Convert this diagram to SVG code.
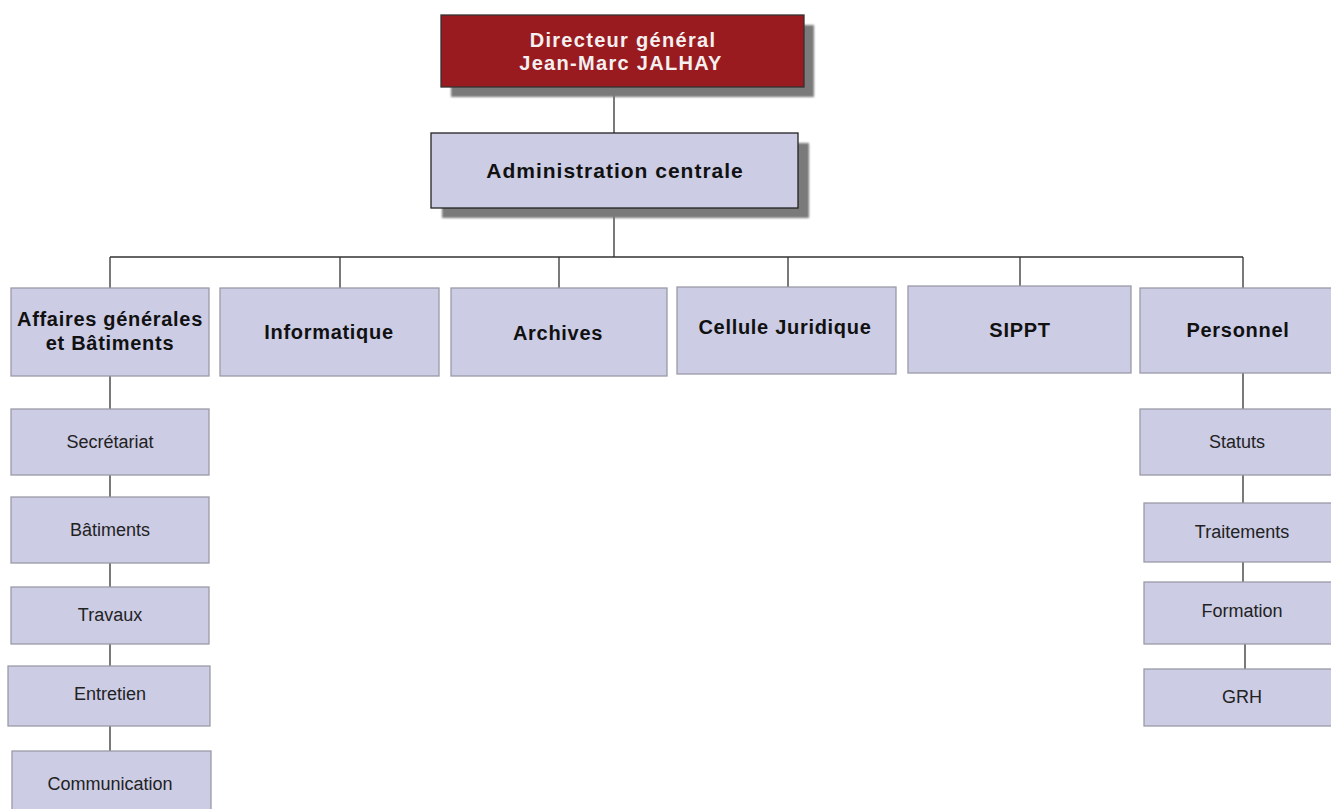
<svg xmlns="http://www.w3.org/2000/svg" width="1331" height="809" viewBox="0 0 1331 809">
<defs>
<filter id="sh" x="-10%" y="-20%" width="130%" height="160%"><feGaussianBlur stdDeviation="1.2"/></filter>
</defs>
<style>
.box{fill:#ccccE5;stroke:#9a9aa8;stroke-width:1.3}
.top{fill:#ccccE5;stroke:#222;stroke-width:1.3}
.dir{fill:#991b1f;stroke:#333;stroke-width:1.3}
.shadow{fill:#7a7a7a;filter:url(#sh)}
.conn{stroke:#333;stroke-width:1.3;fill:none}
.b{font-family:"Liberation Sans",Arial,sans-serif;font-weight:bold;font-size:20px;letter-spacing:0.7px;fill:#111;text-anchor:middle}
.s{font-family:"Liberation Sans",Arial,sans-serif;font-size:18px;fill:#222;text-anchor:middle}
.w{font-family:"Liberation Sans",Arial,sans-serif;font-weight:bold;font-size:20px;letter-spacing:1.3px;fill:#f4f0f0;text-anchor:middle}
</style>
<rect width="1331" height="809" fill="#fff"/>
<g id="connectors">
<path class="conn" d="M614 87V133M614 208V257M110 257H1243M110 257V288M340 257V288M559 257V288M788 257V287M1020 257V286M1243 257V288"/>
<path class="conn" d="M110 376V409M110 475V497M110 563V587M110 644V666M110 726V751"/>
<path class="conn" d="M1243 373V409M1243 475V503M1243 562V582M1245 644V669"/>
</g>
<g id="directeur">
<rect class="shadow" x="451" y="25" width="363" height="72"/>
<rect class="dir" x="441" y="15" width="363" height="72"/>
<text class="w" x="623" y="47">Directeur général</text>
<text class="w" x="621" y="70">Jean-Marc JALHAY</text>
</g>
<g id="admin">
<rect class="shadow" x="442" y="143" width="367" height="75"/>
<rect class="top" x="431" y="133" width="367" height="75"/>
<text class="b" x="615" y="178" style="font-size:21px;letter-spacing:1px">Administration centrale</text>
</g>
<g id="affaires">
<rect class="box" x="11" y="288" width="198" height="88"/>
<text class="b" x="110" y="326">Affaires générales</text>
<text class="b" x="110" y="350">et Bâtiments</text>
</g>
<g id="informatique">
<rect class="box" x="220" y="288" width="219" height="88"/>
<text class="b" x="329" y="339">Informatique</text>
</g>
<g id="archives">
<rect class="box" x="451" y="288" width="216" height="88"/>
<text class="b" x="558" y="340">Archives</text>
</g>
<g id="cellule">
<rect class="box" x="677" y="287" width="219" height="87"/>
<text class="b" x="785" y="334">Cellule Juridique</text>
</g>
<g id="sippt">
<rect class="box" x="908" y="286" width="223" height="87"/>
<text class="b" x="1020" y="337">SIPPT</text>
</g>
<g id="personnel">
<rect class="box" x="1140" y="288" width="206" height="85"/>
<text class="b" x="1238" y="337">Personnel</text>
</g>
<g id="secretariat">
<rect class="box" x="11" y="409" width="198" height="66"/>
<text class="s" x="110" y="448">Secrétariat</text>
</g>
<g id="batiments">
<rect class="box" x="11" y="497" width="198" height="66"/>
<text class="s" x="110" y="536">Bâtiments</text>
</g>
<g id="travaux">
<rect class="box" x="11" y="587" width="198" height="57"/>
<text class="s" x="110" y="621">Travaux</text>
</g>
<g id="entretien">
<rect class="box" x="8" y="666" width="202" height="60"/>
<text class="s" x="110" y="700">Entretien</text>
</g>
<g id="communication">
<rect class="box" x="12" y="751" width="199" height="70"/>
<text class="s" x="110" y="790">Communication</text>
</g>
<g id="statuts">
<rect class="box" x="1140" y="409" width="200" height="66"/>
<text class="s" x="1237" y="448">Statuts</text>
</g>
<g id="traitements">
<rect class="box" x="1144" y="503" width="198" height="59"/>
<text class="s" x="1242" y="538">Traitements</text>
</g>
<g id="formation">
<rect class="box" x="1144" y="582" width="198" height="62"/>
<text class="s" x="1242" y="617">Formation</text>
</g>
<g id="grh">
<rect class="box" x="1144" y="669" width="198" height="57"/>
<text class="s" x="1242" y="703">GRH</text>
</g>
</svg>
